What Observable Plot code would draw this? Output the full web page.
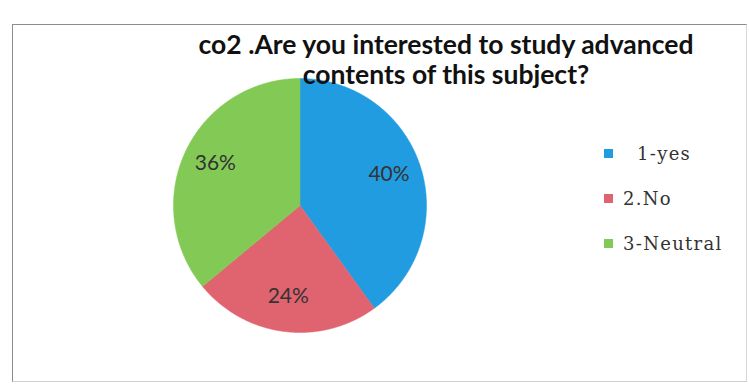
<!DOCTYPE html>
<html><head><meta charset="utf-8">
<script src="https://cdn.jsdelivr.net/npm/d3@7"></script>
<script src="https://cdn.jsdelivr.net/npm/@observablehq/plot@0.6"></script>
<style>
html,body{margin:0;padding:0;background:#fff;}
#wrap{position:relative;width:749px;height:388px;overflow:hidden;background:#fff;}
#border{position:absolute;left:12px;top:24px;width:735px;height:358px;border:1.5px solid #8c8c8c;border-right-color:#d8d8d8;border-bottom-color:#d0d0d0;box-sizing:border-box;}
#chart{position:absolute;left:0;top:0;}
#title{position:absolute;left:146px;top:29px;width:600px;text-align:center;font-family:Lato,sans-serif;font-weight:700;font-size:26.5px;line-height:30px;color:#111;}
#legend{position:absolute;left:604px;top:0;font-family:"DejaVu Serif",serif;font-size:18px;letter-spacing:1.3px;color:#333;}
.item{position:absolute;left:0;white-space:pre;display:flex;align-items:center;height:20px;}
.sw{width:9px;height:9px;margin-right:10px;}
</style></head>
<body>
<div id="wrap">
  <div id="border"></div>
  <div id="chart"></div>
  <div id="title"></div>
  <div id="legend"></div>
</div>
<script>
const titleLines = ["co2 .Are you interested to study advanced", "contents of this subject?"];
const categories = ["1-yes", "2.No", "3-Neutral"];
const legendLabels = ["  1-yes", "2.No", "3-Neutral"];
const values = [40, 24, 36];
const labels = ["40%", "24%", "36%"];
const colors = ["#219ce0", "#df6470", "#82c955"];

const pie = d3.pie().sort(null).value(d => d.value);
const arcs = pie(categories.map((c, i) => ({category: c, value: values[i], label: labels[i]})));

// polygon vertices from pie angles (0 = 12 o'clock, clockwise)
const poly = [];
arcs.forEach(a => {
  poly.push({category: a.data.category, x: 0, y: 0});
  const n = Math.max(2, Math.ceil((a.endAngle - a.startAngle) / 0.01));
  for (let k = 0; k <= n; k++) {
    const t = a.startAngle + (a.endAngle - a.startAngle) * k / n;
    poly.push({category: a.data.category, x: Math.sin(t), y: Math.cos(t)});
  }
  poly.push({category: a.data.category, x: 0, y: 0});
});
const labelR = 0.74;
const labelPts = arcs.map(a => {
  const m = (a.startAngle + a.endAngle) / 2;
  return {label: a.data.label, x: labelR * Math.sin(m), y: labelR * Math.cos(m)};
});

const chart = Plot.plot({
  width: 749, height: 388,
  marginLeft: 173, marginRight: 323, marginTop: 78, marginBottom: 56,
  x: {domain: [-1, 1], axis: null},
  y: {domain: [-1, 1], axis: null},
  color: {domain: categories, range: colors},
  style: {background: "transparent"},
  marks: [
    Plot.line(poly, {x: "x", y: "y", z: "category", fill: "category", stroke: "category", strokeWidth: 0.5, curve: "linear"}),
    Plot.text(labelPts, {x: "x", y: "y", text: "label", fontSize: 21, fill: "#333", fontFamily: "Lato, sans-serif", dy: -2})
  ]
});
document.getElementById("chart").appendChild(chart);

document.getElementById("title").innerHTML = titleLines.join("<br>");

const legendTops = [143, 188, 233];
const leg = document.getElementById("legend");
categories.forEach((c, i) => {
  const it = document.createElement("div");
  it.className = "item";
  it.style.top = legendTops[i] + "px";
  const sw = document.createElement("div");
  sw.className = "sw";
  sw.style.background = colors[i];
  it.appendChild(sw);
  const tx = document.createElement("span");
  tx.textContent = legendLabels[i];
  it.appendChild(tx);
  leg.appendChild(it);
});
</script>
</body></html>
